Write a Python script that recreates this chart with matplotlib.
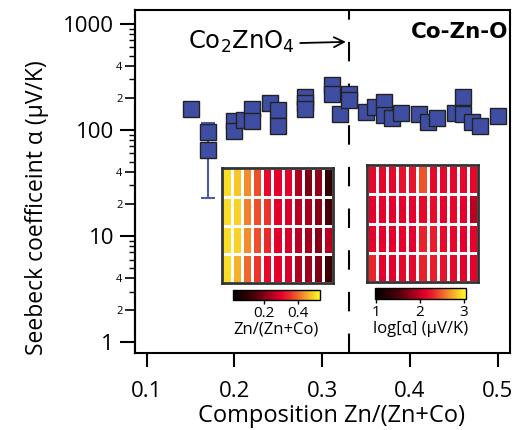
import numpy as np
import matplotlib
matplotlib.use("Agg")
import matplotlib.pyplot as plt
from matplotlib.colors import LinearSegmentedColormap
from matplotlib.ticker import FixedLocator, FuncFormatter, NullFormatter

plt.rcParams['font.family'] = ['Open Sans', 'DejaVu Sans']
plt.rcParams['lines.scale_dashes'] = False

# --- data ---
zn_frac = [0.150, 0.170, 0.170, 0.200, 0.200, 0.211, 0.220, 0.220, 0.240, 0.250,
           0.250, 0.280, 0.280, 0.280, 0.311, 0.311, 0.320, 0.331, 0.331, 0.350,
           0.360, 0.370, 0.370, 0.380, 0.390, 0.410, 0.420, 0.431, 0.451, 0.460,
           0.460, 0.471, 0.480, 0.500]
seebeck = [157, 95, 64, 122, 98, 124, 157, 122, 181, 154,
           110, 203, 180, 157, 266, 219, 142, 219, 192, 146,
           166, 185, 138, 130, 144, 141, 120, 129, 144, 203,
           142, 118, 110, 136]

# the one point with an error bar
err_x = 0.170
err_y = 64
err_lo = 23
err_hi = 116

phase_x = 0.33

# inset maps (4 rows x 11 columns)
comp_map = np.array([
    [0.50, 0.48, 0.43, 0.38, 0.31, 0.30, 0.30, 0.25, 0.20, 0.22, 0.10],
    [0.50, 0.49, 0.42, 0.38, 0.36, 0.30, 0.29, 0.26, 0.24, 0.21, 0.14],
    [0.50, 0.49, 0.43, 0.38, 0.35, 0.30, 0.29, 0.26, 0.24, 0.21, 0.26],
    [0.50, 0.46, 0.40, 0.36, 0.31, 0.30, 0.29, 0.25, 0.23, 0.20, 0.12],
])
log_alpha_map = np.array([
    [2.15, 2.15, 2.15, 2.20, 2.22, 2.45, 2.15, 2.15, 2.15, 2.15, 2.15],
    [2.12, 2.12, 2.12, 2.12, 2.12, 2.15, 2.18, 2.12, 2.15, 2.12, 1.95],
    [2.12, 2.12, 2.12, 2.12, 2.12, 2.28, 2.25, 2.15, 2.15, 2.12, 2.12],
    [2.30, 2.12, 2.12, 2.15, 2.15, 2.28, 2.25, 2.20, 2.15, 2.12, 2.12],
])

# black -> dark red -> crimson -> orange -> yellow
cmap = LinearSegmentedColormap.from_list("hotish", [
    (0.0, "#000000"), (0.25, "#4a0008"), (0.42, "#a0001c"), (0.55, "#e4002b"),
    (0.65, "#ea2a2a"), (0.80, "#f28a2c"), (1.0, "#ffff22")])

W, H = 529, 430
fig = plt.figure(figsize=(W / 100, H / 100), dpi=100)
ax = fig.add_axes([135 / W, 1 - 353 / H, 375 / W, 343 / H])

ax.set_yscale('log')
ax.set_xlim(0.0867, 0.514)
ax.set_ylim(0.79, 1350)

ax.axvline(phase_x, color='black', lw=1.5, dashes=(14, 16), zorder=1)

ax.errorbar([err_x], [err_y], yerr=[[err_y - err_lo], [err_hi - err_y]],
            fmt='none', ecolor='#4a5ab0', elinewidth=1.5, capsize=5, capthick=1.5, zorder=2)
ax.plot(zn_frac, seebeck, 's', ms=12, mfc='#3f4ea3', mec='#222222', mew=1.0,
        ls='none', zorder=3)

# axes styling
for s in ax.spines.values():
    s.set_linewidth(1.5)
ax.set_xticks([0.1, 0.2, 0.3, 0.4, 0.5])
ax.set_xticklabels(['0.1', '0.2', '0.3', '0.4', '0.5'])
ax.tick_params(axis='x', which='major', direction='out', length=10, width=1.5,
               labelsize=16, pad=10)
ax.yaxis.set_major_locator(FixedLocator([1, 10, 100, 1000]))
ax.yaxis.set_major_formatter(FuncFormatter(lambda v, p: f'{v:g}'))
ax.yaxis.set_minor_locator(FixedLocator([2, 4, 20, 40, 200, 400]))
ax.yaxis.set_minor_formatter(FuncFormatter(lambda v, p: f'{v / 10 ** np.floor(np.log10(v) + 1e-9):g}'))
ax.tick_params(axis='y', which='major', direction='out', length=11, width=1.5,
               labelsize=16, pad=4)
ax.tick_params(axis='y', which='minor', direction='out', length=7, width=1.2,
               labelsize=8, pad=2)

# the small unlabeled minor ticks
sec = ax.secondary_yaxis('left')
small = [m * 10 ** d for d in range(0, 3) for m in (3, 5, 6, 7, 8, 9)]
sec.yaxis.set_major_locator(FixedLocator(small))
sec.yaxis.set_major_formatter(NullFormatter())
sec.yaxis.set_minor_locator(FixedLocator([]))
sec.tick_params(axis='y', which='major', direction='out', length=4, width=1.0)
sec.spines['left'].set_linewidth(1.5)

ax.set_xlabel('Composition Zn/(Zn+Co)', fontsize=17)
ax.xaxis.set_label_coords(0.525, -0.148)
ax.set_ylabel('Seebeck coefficeint \u03b1 (\u00b5V/K)', fontsize=16.5)
ax.yaxis.set_label_coords(-0.228, 0.424)

ax.annotate(r'Co$_\mathregular{2}$ZnO$_\mathregular{4}$', xy=(0.327, 676),
            xytext=(0.147, 676), fontsize=17.5, family=['DejaVu Sans'],
            ha='left', va='center',
            arrowprops=dict(arrowstyle='->', lw=1.3, color='black', mutation_scale=18,
                            relpos=(1.0, 0.45), shrinkA=2, shrinkB=0))
ax.text(0.995, 0.965, 'Co-Zn-O', transform=ax.transAxes, fontsize=15.5, fontweight='bold',
        family=['DejaVu Sans'], ha='right', va='top')


def draw_map(rect, cbar_rect, values, vmin, vmax, ticks, ticklabels, label):
    m_ax = fig.add_axes(rect)
    mesh = m_ax.pcolormesh(values[::-1], cmap=cmap, vmin=vmin, vmax=vmax,
                           edgecolor='white', linewidth=1.8)
    m_ax.set_xticks([])
    m_ax.set_yticks([])
    for s in m_ax.spines.values():
        s.set_linewidth(2)
        s.set_color('#333333')
    c_ax = fig.add_axes(cbar_rect)
    cb = fig.colorbar(mesh, cax=c_ax, orientation='horizontal')
    cb.outline.set_linewidth(1.0)
    cb.set_ticks(ticks)
    cb.set_ticklabels(ticklabels)
    c_ax.tick_params(length=3, width=1, labelsize=11, pad=1)
    cb.set_label(label, fontsize=12, labelpad=1)


draw_map([222 / W, 1 - 283 / H, 111 / W, 115 / H],
         [233 / W, 1 - 300 / H, 87 / W, 10 / H],
         comp_map, 0.02, 0.53, [0.2, 0.4], ['0.2', '0.4'], 'Zn/(Zn+Co)')
draw_map([367 / W, 1 - 282 / H, 111 / W, 117 / H],
         [375 / W, 1 - 299 / H, 91 / W, 11 / H],
         log_alpha_map, 0.97, 3.05, [1, 2, 3], ['1', '2', '3'],
         'log[\u03b1] (\u00b5V/K)')

fig.savefig('out.png', dpi=100)
